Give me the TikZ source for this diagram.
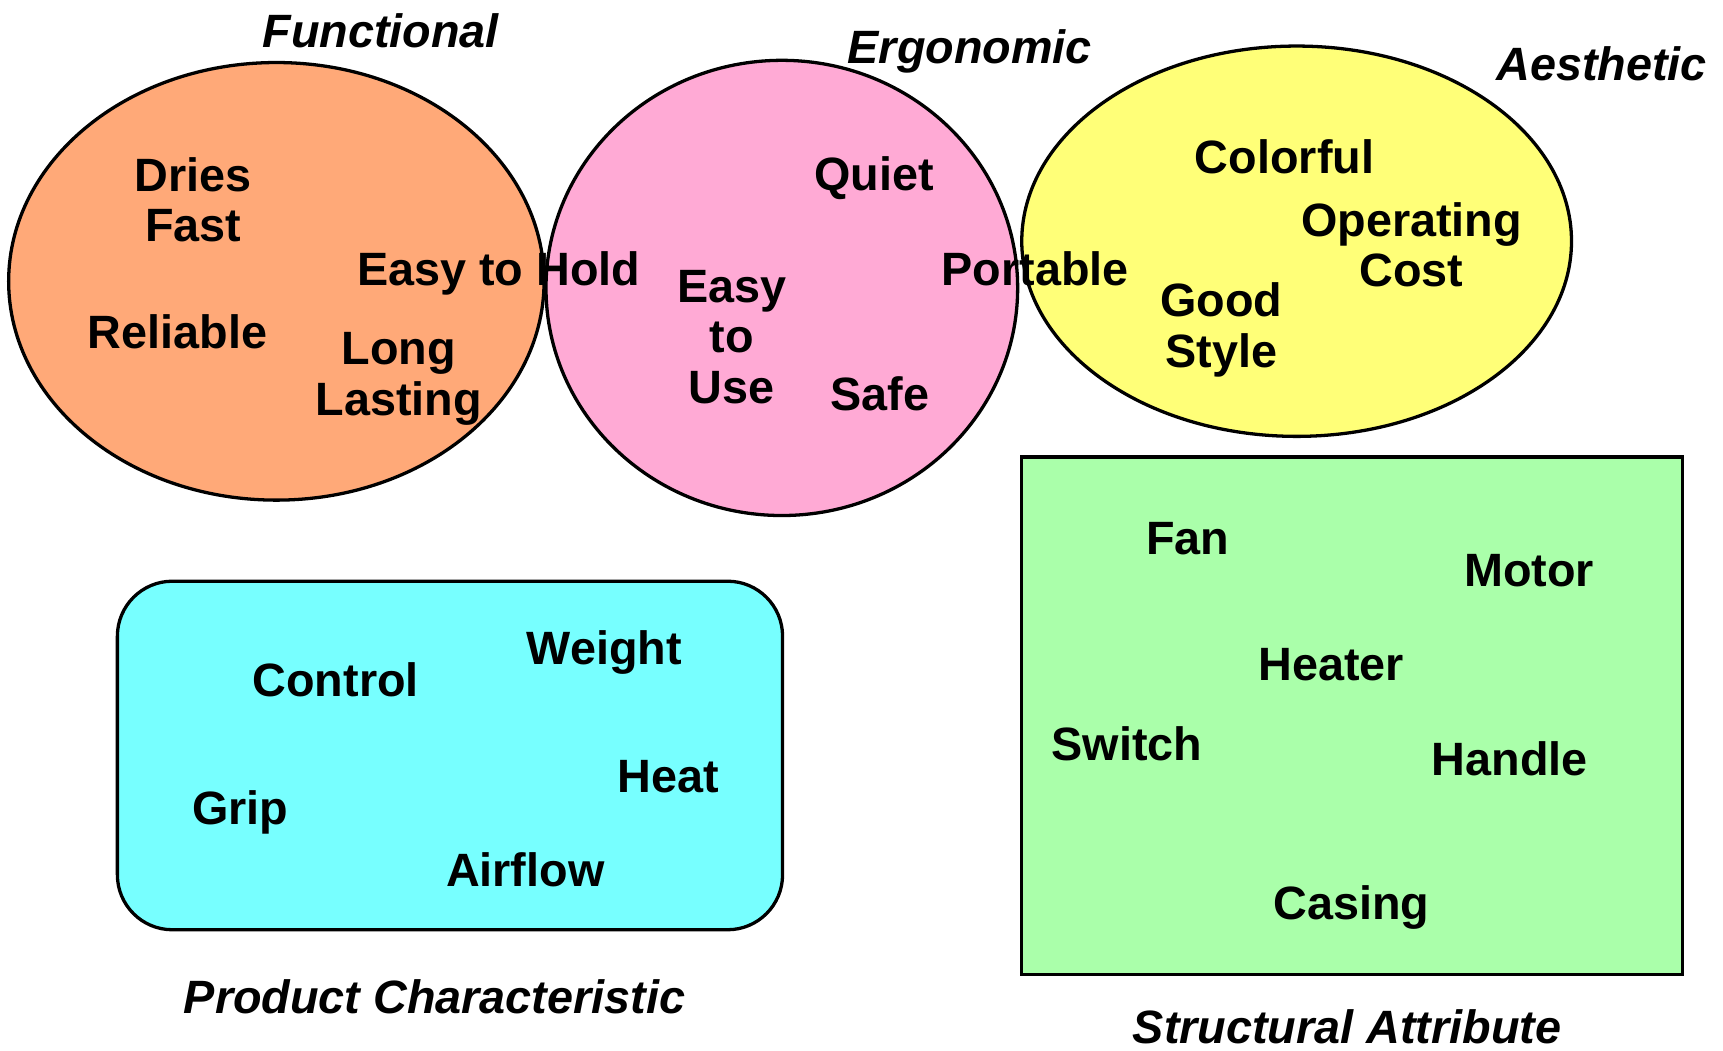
\documentclass[tikz,border=0pt]{standalone}
\usepackage{fontspec}
\setmainfont{Liberation Sans}
\usetikzlibrary{shapes.geometric}
\definecolor{cOrange}{RGB}{255,169,120}
\definecolor{cPink}{RGB}{255,170,213}
\definecolor{cYellow}{RGB}{255,255,120}
\definecolor{cCyan}{RGB}{119,255,255}
\definecolor{cGreen}{RGB}{170,255,170}
\newcommand{\mlines}[1]{\begin{tabular}[t]{@{}c@{}}#1\end{tabular}}
\tikzset{
  blob/.style={ellipse, draw=black, line width=0.85pt, inner sep=0pt},
  panel/.style={rectangle, draw=black, line width=0.85pt, inner sep=0pt},
  lbl/.style={anchor=base, inner sep=0pt, font=\fontsize{12.1}{13.1}\selectfont\bfseries},
  cat/.style={lbl, font=\fontsize{12.1}{13.1}\selectfont\bfseries\itshape}
}
\begin{document}
\begin{tikzpicture}[x=0.01cm,y=-0.01cm]
\useasboundingbox (0,0) rectangle (1568,956);
% shapes
\node[blob, fill=cOrange, minimum width=4.87cm, minimum height=3.98cm] (func) at (251.5,256) {};
\node[blob, fill=cPink, minimum width=4.29cm, minimum height=4.14cm] (ergo) at (711.5,262) {};
\node[blob, fill=cYellow, minimum width=5.00cm, minimum height=3.55cm] (aest) at (1180,219.5) {};
\node[panel, fill=cCyan, rounded corners=0.5cm, minimum width=6.05cm, minimum height=3.17cm] (prod) at (409.5,687.5) {};
\node[panel, fill=cGreen, minimum width=6.01cm, minimum height=4.71cm] (struct) at (1230.5,651.5) {};
% category labels
\node[cat] (tFunc) at (346.5,43) {Functional};
\node[cat] (tErgo) at (882.5,58) {Ergonomic};
\node[cat] (tAest) at (1457.5,73) {Aesthetic};
\node[cat] (tProd) at (395.5,922) {Product Characteristic};
\node[cat] (tStruct) at (1226,950) {Structural Attribute};
% functional
\node[lbl] (dries) at (176,174) {\mlines{Dries\\Fast}};
\node[lbl] (reliable) at (161.5,317) {Reliable};
\node[lbl] (hold) at (454,260) {Easy to Hold};
\node[lbl] (long) at (363,332) {\mlines{Long\\Lasting}};
% ergonomic
\node[lbl] (quiet) at (795.5,173) {Quiet};
\node[lbl] (use) at (666,275) {\mlines{Easy\\to\\Use}};
\node[lbl] (portable) at (942,260) {Portable};
\node[lbl] (safe) at (800.5,374) {Safe};
% aesthetic
\node[lbl] (colorful) at (1169,158) {Colorful};
\node[lbl] (cost) at (1284.5,215) {\mlines{Operating\\Cost}};
\node[lbl] (style) at (1111.5,288) {\mlines{Good\\Style}};
% product characteristic
\node[lbl] (control) at (305.5,634) {Control};
\node[lbl] (weight) at (550,605) {Weight};
\node[lbl] (heat) at (608,721) {Heat};
\node[lbl] (grip) at (218.5,750) {Grip};
\node[lbl] (airflow) at (478,807) {Airflow};
% structural attribute
\node[lbl] (fan) at (1081,505) {Fan};
\node[lbl] (motor) at (1391.5,534) {Motor};
\node[lbl] (heater) at (1211.5,619) {Heater};
\node[lbl] (switch) at (1025.5,692) {Switch};
\node[lbl] (handle) at (1374,706) {Handle};
\node[lbl] (casing) at (1230,837) {Casing};
\end{tikzpicture}
\end{document}
